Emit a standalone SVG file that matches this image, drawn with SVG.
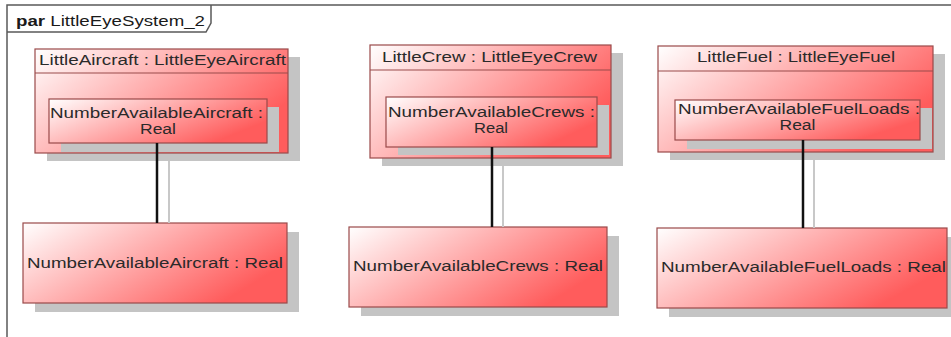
<svg xmlns="http://www.w3.org/2000/svg" width="951" height="337" viewBox="0 0 951 337">
<defs>
<linearGradient id="g" x1="0" y1="0" x2="1" y2="0.5">
<stop offset="0" stop-color="#ffffff"/>
<stop offset="1" stop-color="#ff5c5c"/>
</linearGradient>
<style>
.box{fill:url(#g);stroke:#9a4a4a;stroke-width:1.2}
.sh{fill:#c4c4c4}
.t{font-family:"Liberation Sans",Arial,sans-serif;font-size:14px;fill:#2a2a2a;text-anchor:middle}
.frame{fill:none;stroke:#5a5a5a;stroke-width:1.5}
.conn{stroke:#111;stroke-width:2.5}
.connsh{stroke:#c8c8c8;stroke-width:2}
</style>
</defs>
<rect width="951" height="337" fill="#ffffff"/>
<g id="frame">
<path class="frame" d="M7,337 V5 H951"/>
<path class="frame" d="M7,32 H206 L211,23 V5"/>
<text x="16" y="26" font-family="&quot;Liberation Sans&quot;,Arial,sans-serif" font-size="14" fill="#1a1a1a" textLength="189" lengthAdjust="spacingAndGlyphs"><tspan font-weight="bold">par</tspan> LittleEyeSystem_2</text>
</g>
<g id="LittleAircraft">
<rect class="sh" x="47" y="57" width="253" height="104"/>
<rect class="box" x="35" y="49" width="253" height="104"/>
<line x1="35" y1="73" x2="288" y2="73" stroke="#9a4a4a" stroke-width="1.2"/>
<text class="t" x="162.5" y="65" textLength="247" lengthAdjust="spacingAndGlyphs">LittleAircraft : LittleEyeAircraft</text>
</g>
<g id="LittleAircraft_NumberAvailableAircraft">
<rect class="sh" x="61" y="107" width="218" height="45"/>
<rect class="box" x="49" y="99" width="218" height="44"/>
<text class="t" x="156.5" y="118" textLength="213" lengthAdjust="spacingAndGlyphs">NumberAvailableAircraft :</text>
<text class="t" x="158" y="134" textLength="36" lengthAdjust="spacingAndGlyphs">Real</text>
</g>
<g id="LittleCrew">
<rect class="sh" x="382" y="53" width="241" height="113"/>
<rect class="box" x="370" y="45" width="241" height="113"/>
<line x1="370" y1="70" x2="611" y2="70" stroke="#9a4a4a" stroke-width="1.2"/>
<text class="t" x="489.5" y="62" textLength="215" lengthAdjust="spacingAndGlyphs">LittleCrew : LittleEyeCrew</text>
</g>
<g id="LittleCrew_NumberAvailableCrews">
<rect class="sh" x="398" y="105" width="211" height="50"/>
<rect class="box" x="386" y="97" width="211" height="50"/>
<text class="t" x="491.5" y="117" textLength="207" lengthAdjust="spacingAndGlyphs">NumberAvailableCrews :</text>
<text class="t" x="491" y="133" textLength="34" lengthAdjust="spacingAndGlyphs">Real</text>
</g>
<g id="LittleFuel">
<rect class="sh" x="670" y="54" width="275" height="106"/>
<rect class="box" x="658" y="46" width="275" height="106"/>
<line x1="658" y1="71" x2="933" y2="71" stroke="#9a4a4a" stroke-width="1.2"/>
<text class="t" x="796" y="62" textLength="198" lengthAdjust="spacingAndGlyphs">LittleFuel : LittleEyeFuel</text>
</g>
<g id="LittleFuel_NumberAvailableFuelLoads">
<rect class="sh" x="687" y="108" width="245" height="41"/>
<rect class="box" x="675" y="100" width="245" height="40"/>
<text class="t" x="799" y="114" textLength="242" lengthAdjust="spacingAndGlyphs">NumberAvailableFuelLoads :</text>
<text class="t" x="797.5" y="130" textLength="36" lengthAdjust="spacingAndGlyphs">Real</text>
</g>
<g id="NumberAvailableAircraft">
<rect class="sh" x="35" y="232" width="264" height="80"/>
<rect class="box" x="23" y="223" width="264" height="80"/>
<text class="t" x="155" y="268" textLength="256" lengthAdjust="spacingAndGlyphs">NumberAvailableAircraft : Real</text>
</g>
<g id="NumberAvailableCrews">
<rect class="sh" x="361" y="236" width="258" height="80"/>
<rect class="box" x="349" y="227" width="258" height="80"/>
<text class="t" x="478" y="271" textLength="250" lengthAdjust="spacingAndGlyphs">NumberAvailableCrews : Real</text>
</g>
<g id="NumberAvailableFuelLoads">
<rect class="sh" x="669" y="237" width="290" height="80"/>
<rect class="box" x="657" y="228" width="290" height="80"/>
<text class="t" x="803.5" y="272" textLength="285" lengthAdjust="spacingAndGlyphs">NumberAvailableFuelLoads : Real</text>
</g>
<g id="connectors">
<line class="connsh" x1="169" y1="161" x2="169" y2="223"/>
<line class="conn" x1="157" y1="143" x2="157" y2="223"/>
<line class="connsh" x1="503" y1="166" x2="503" y2="227"/>
<line class="conn" x1="492" y1="147" x2="492" y2="227"/>
<line class="connsh" x1="814" y1="160" x2="814" y2="228"/>
<line class="conn" x1="803" y1="140" x2="803" y2="228"/>
</g>
</svg>
